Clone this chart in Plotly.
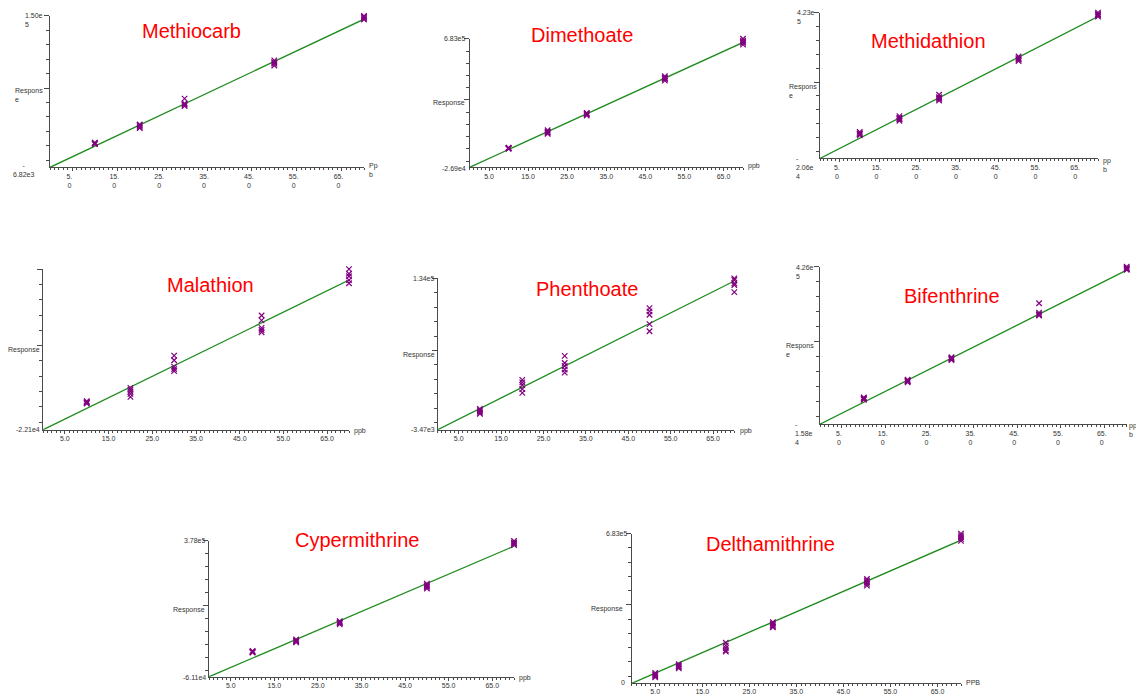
import plotly.graph_objects as go

W, H = 1136, 695
FONT = "Liberation Sans, Arial, sans-serif"

# ---------------- data ----------------
COMPOUNDS = ["Methiocarb", "Dimethoate", "Methidathion", "Malathion",
             "Phenthoate", "Bifenthrine", "Cypermithrine", "Delthamithrine"]

LEVELS_STD = [10, 20, 30, 50, 70]
LEVELS_DELTA = [5, 10, 20, 30, 50, 70]

METHIOCARB_RESP = [[18800, 17900, 17200, 18300, 17600],
                   [37500, 35800, 34600, 36900, 33800],
                   [64400, 59300, 57800, 56500, 58600],
                   [104000, 102200, 100600, 98600, 101400],
                   [150000, 148600, 147400, 146300, 149200]]
DIMETHOATE_RESP = [[81500, 78200, 76000, 79900, 77300],
                   [178000, 170500, 163000, 157500, 166800],
                   [274000, 268500, 264000, 259500, 270800],
                   [476000, 468000, 461000, 452000, 464500],
                   [683000, 672000, 660000, 651000, 666000]]
METHIDATHION_RESP = [[60000, 56000, 52500, 49500, 54000],
                     [108000, 103000, 98500, 94000, 100500],
                     [173000, 166000, 160500, 155500, 163000],
                     [289500, 284500, 279500, 275500, 282000],
                     [423000, 418500, 414500, 411000, 416500]]
MALATHION_RESP = [[10500, 9400, 8400, 7600, 8900],
                  [25500, 23300, 21100, 18600, 15300],
                  [62000, 56800, 49500, 46800, 44500],
                  [107500, 102000, 93500, 91000, 88500],
                  [160000, 154800, 152000, 147500, 144000]]
PHENTHOATE_RESP = [[15500, 14300, 13200, 12000, 11000],
                   [41800, 39600, 37200, 33500, 30000],
                   [63600, 57200, 54500, 51300, 48500],
                   [107000, 104000, 101000, 92500, 86000],
                   [134000, 132500, 129500, 128000, 121500]]
BIFENTHRINE_RESP = [[59500, 57000, 55000, 53000, 56000],
                    [109000, 106500, 104000, 101500, 105000],
                    [172000, 169500, 167000, 164000, 168000],
                    [323600, 297500, 293000, 289000, 291000],
                    [426000, 422500, 420000, 417500, 419500]]
CYPERMITHRINE_RESP = [[22500, 20000, 18500, 17000, 19500],
                      [59500, 56000, 53000, 50000, 54500],
                      [118500, 115000, 112000, 108000, 113500],
                      [240000, 234500, 229500, 224000, 231500],
                      [378000, 373000, 368500, 364000, 370500]]
DELTHAMITHRINE_RESP = [[48000, 42000, 37500, 33000, 28000],
                       [87000, 81000, 77500, 73000, 68000],
                       [185000, 172000, 161000, 150000, 145000],
                       [279500, 273000, 266000, 260000, 256000],
                       [476000, 468000, 461000, 454000, 446000],
                       [683000, 675000, 667000, 659000, 650000]]

ALL_LEVELS = [LEVELS_STD] * 7 + [LEVELS_DELTA]
ALL_RESP = [METHIOCARB_RESP, DIMETHOATE_RESP, METHIDATHION_RESP, MALATHION_RESP,
            PHENTHOATE_RESP, BIFENTHRINE_RESP, CYPERMITHRINE_RESP, DELTHAMITHRINE_RESP]

FIT_INTERCEPT = [-6820, -26900, -20600, -22100, -3470, -15800, -61100, 0]
FIT_SLOPE = [2192, 9851, 6164, 2424, 1930, 6177, 6030, 9329]

Y_MIN = [-6820, -26900, -20600, -22100, -3470, -15800, -61100, 0]
Y_MAX = [150000, 683000, 423000, 160000, 134000, 426000, 378000, 683000]

X_MAX = 70
X_TICKS = [5, 15, 25, 35, 45, 55, 65]
X_LABELS_WRAP = ["5.<br>0", "15.<br>0", "25.<br>0", "35.<br>0", "45.<br>0", "55.<br>0", "65.<br>0"]
X_LABELS_FLAT = ["5.0", "15.0", "25.0", "35.0", "45.0", "55.0", "65.0"]

# ---------------- layout (pixel boxes: left, right, top, bottom) ----------------
PANELS = [
    (50, 364, 16, 168.3),
    (469.5, 743, 39, 168.3),
    (820, 1098, 12.7, 159.3),
    (43, 349, 270.7, 432.3),
    (437.5, 734.3, 280, 432.3),
    (820, 1126.7, 268.3, 426.7),
    (209, 514, 544, 680.7),
    (631.7, 961, 536.7, 687.3),
]
WRAPPED_X = [True, False, True, False, False, True, False, False]
LABEL_STANDOFF = [-1, -1, -1, -1, -1, -1, -1, -2]

TITLE_POS = [(191.7, 30.7), (581.7, 35), (928.3, 41.7), (210, 286.7),
             (586.7, 291), (951.7, 297.7), (356.7, 543.3), (770.7, 546.7)]

# y-axis text labels: (text, x, first-line centre y, anchor)
Y_TEXT = [
    [("1.50e<br>5", 22.7, 16, "left"), ("-<br>6.82e3", 24.2, 166, "center"), ("Respons<br>e", 12.7, 90.7, "left")],
    [("6.83e5", 468.3, 39, "right"), ("-2.69e4", 468, 169, "right"), ("Response", 467, 103.3, "right")],
    [("4.23e<br>5", 795, 12.7, "left"), ("-<br>2.06e<br>4", 794, 159.3, "left"), ("Respons<br>e", 787.3, 86.7, "left")],
    [("-2.21e4", 41.7, 432.3, "right"), ("Response", 42, 351.7, "right")],
    [("1.34e5", 436.7, 280, "right"), ("-3.47e3", 436.7, 432.3, "right"), ("Response", 437, 356.7, "right")],
    [("4.26e<br>5", 794, 269, "left"), ("-<br>1.58e<br>4", 792.7, 426.7, "left"), ("Respons<br>e", 784, 347.7, "left")],
    [("3.78e5", 207.7, 544, "right"), ("-6.11e4", 207.7, 681.7, "right"), ("Response", 207, 613.3, "right")],
    [("6.83e5", 630, 536.7, "right"), ("0", 626.7, 686.7, "right"), ("Response", 625, 611.7, "right")],
]
UNIT_TEXT = [("Pp<br>b", 366.7, 166.7), ("ppb", 746, 166.7), ("pp<br>b", 1100.7, 161),
             ("ppb", 352.3, 433), ("ppb", 737.7, 433), ("pp<br>b", 1126.5, 428.3),
             ("ppb", 516.7, 681.7), ("PPB", 964.3, 686)]

AXIS_COLOR = "#4a4a4a"
TEXT_COLOR = "#333333"
LINE_COLOR = "#1e8c1e"
MARK_COLOR = "#800080"


def label(text, x, y, anchor, size=7, color=TEXT_COLOR):
    return dict(text=text, x=x / W, y=1 - (y - 5.5) / H, xref="paper", yref="paper",
                xanchor=anchor, yanchor="top", align=anchor, showarrow=False,
                font=dict(size=size, color=color, family=FONT))


fig = go.Figure()
annotations = []
layout_axes = {}

for i, name in enumerate(COMPOUNDS):
    n = i + 1
    xa = "x" if n == 1 else f"x{n}"
    ya = "y" if n == 1 else f"y{n}"
    left, right, top, bottom = PANELS[i]

    # fitted calibration line
    xs_line = [0, X_MAX]
    ys_line = [FIT_INTERCEPT[i] + FIT_SLOPE[i] * v for v in xs_line]
    fig.add_trace(go.Scatter(x=xs_line, y=ys_line, mode="lines", xaxis=xa, yaxis=ya,
                             line=dict(color=LINE_COLOR, width=1.3), hoverinfo="skip",
                             cliponaxis=False))

    # replicate points
    px_, py_ = [], []
    for lvl, reps in zip(ALL_LEVELS[i], ALL_RESP[i]):
        for r in reps:
            px_.append(lvl)
            py_.append(r)
    fig.add_trace(go.Scatter(x=px_, y=py_, mode="markers", xaxis=xa, yaxis=ya,
                             marker=dict(symbol="x-thin-open", size=5.5, color=MARK_COLOR,
                                         line=dict(color=MARK_COLOR, width=1.2)),
                             cliponaxis=False, name=name))

    ymin, ymax = Y_MIN[i], Y_MAX[i]
    d = (ymax - ymin) / 10.5
    minor_vals = [ymax - k * d for k in range(11)]

    key_x = "xaxis" if n == 1 else f"xaxis{n}"
    key_y = "yaxis" if n == 1 else f"yaxis{n}"
    layout_axes[key_x] = dict(
        domain=[left / W, right / W], anchor=ya, range=[0, X_MAX],
        showline=True, linecolor=AXIS_COLOR, linewidth=1, showgrid=False, zeroline=False,
        tickmode="array", tickvals=X_TICKS,
        ticktext=X_LABELS_WRAP if WRAPPED_X[i] else X_LABELS_FLAT,
        ticks="outside", ticklen=3, tickcolor=AXIS_COLOR, tickwidth=1,
        ticklabelstandoff=LABEL_STANDOFF[i], ticklabelshift=-3 if WRAPPED_X[i] else 0,
        tickfont=dict(size=7, color=TEXT_COLOR, family=FONT),
        minor=dict(tickmode="array", tickvals=list(range(0, X_MAX + 1)), ticks="outside",
                   ticklen=2, tickcolor=AXIS_COLOR, tickwidth=1),
        fixedrange=True,
    )
    layout_axes[key_y] = dict(
        domain=[1 - bottom / H, 1 - top / H], anchor=xa, range=[ymin, ymax],
        showline=True, linecolor=AXIS_COLOR, linewidth=1, showgrid=False, zeroline=False,
        tickmode="array", tickvals=[ymax, ymax - 5 * d], ticks="outside", ticklen=5,
        tickcolor=AXIS_COLOR, tickwidth=1, showticklabels=False,
        minor=dict(tickmode="array", tickvals=minor_vals, ticks="outside",
                   ticklen=3, tickcolor=AXIS_COLOR, tickwidth=1),
        fixedrange=True,
    )

    tx, ty = TITLE_POS[i]
    annotations.append(dict(text=name, x=tx / W, y=1 - ty / H, xref="paper", yref="paper",
                            xanchor="center", yanchor="middle", showarrow=False,
                            font=dict(size=20, color="#ff0000", family=FONT)))
    for text, x, y, anchor in Y_TEXT[i]:
        annotations.append(label(text, x, y, anchor))
    ut, ux, uy = UNIT_TEXT[i]
    annotations.append(label(ut, ux, uy, "left"))

fig.update_layout(
    width=W, height=H, autosize=False,
    margin=dict(l=0, r=0, t=0, b=0),
    paper_bgcolor="white", plot_bgcolor="white",
    showlegend=False, annotations=annotations,
    font=dict(family=FONT, color=TEXT_COLOR),
    **layout_axes,
)

fig.write_html("out.html", config={"displayModeBar": False},
               post_script="document.body.style.margin='0';document.body.style.overflow='hidden';")
